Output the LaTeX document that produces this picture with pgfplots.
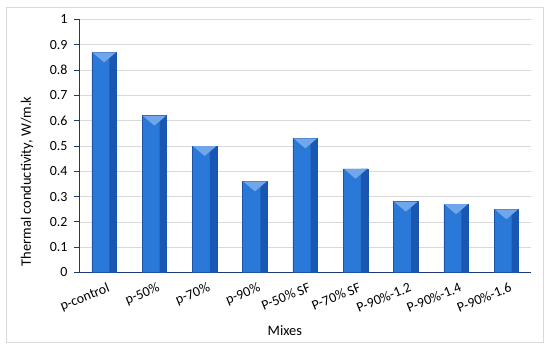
\documentclass[border=0pt]{standalone}
\usepackage{pgfplots}
\pgfplotsset{compat=1.18}
\usepackage{fontspec}
\setmainfont{Carlito}

\definecolor{axisnavy}{RGB}{31,56,110}
\definecolor{gridgray}{RGB}{217,217,217}
\definecolor{barM}{RGB}{42,120,215}
\definecolor{barR}{RGB}{24,88,178}
\definecolor{baredge}{RGB}{30,84,165}
\definecolor{bevel}{RGB}{112,166,234}

% lighter triangle on top of each bar
\pgfdeclareplotmark{bevel}{%
  \pgfpathmoveto{\pgfqpoint{-11.8bp}{0bp}}%
  \pgfpathlineto{\pgfqpoint{11.8bp}{0bp}}%
  \pgfpathlineto{\pgfqpoint{0bp}{-10bp}}%
  \pgfpathclose
  \pgfusepathqfill}

\pgfplotstableread{
x  y
0  0.87
1  0.62
2  0.50
3  0.36
4  0.53
5  0.41
6  0.28
7  0.27
8  0.25
}\mixes

\begin{document}
\begin{tikzpicture}
  \useasboundingbox (-79bp,-76.5bp) rectangle (471bp,272.5bp);
  \draw[gridgray, line width=0.8bp] (-72.5bp,-69.5bp) rectangle (464bp,265.5bp);
  \begin{axis}[
      scale only axis,
      width=452.5bp, height=253bp,
      xmin=-0.5, xmax=8.5,
      ymin=0, ymax=1,
      ytick={0,0.1,...,1.01},
      xtick={0,...,8},
      xticklabels={p-control, p-50\%, p-70\%, p-90\%, P-50\% SF, P-70\% SF,
                   P-90\%-1.2, P-90\%-1.4, P-90\%-1.6},
      minor xtick={-0.5,0.5,...,8.6},
      axis x line*=bottom,
      axis y line*=left,
      axis line style={axisnavy, line width=1bp, -},
      tick align=outside,
      major tick length=5bp,
      minor tick length=5bp,
      xtick style={draw=none},
      minor x tick style={axisnavy, line width=1bp},
      ytick style={axisnavy, line width=1bp},
      ymajorgrids,
      grid style={gridgray, line width=0.8bp},
      /pgf/number format/assume math mode=true,
      yticklabel style={font=\fontsize{14}{16}\selectfont, xshift=-3bp},
      xticklabel style={font=\fontsize{14}{16}\selectfont, rotate=22,
                        anchor=north east, xshift=4bp, yshift=-2bp},
      ylabel={Thermal conductivity, W/m.k},
      xlabel={Mixes},
      label style={font=\fontsize{14.5}{16}\selectfont},
      ylabel style={at={(axis description cs:-0.115,0.36)}, anchor=center},
      xlabel style={at={(axis description cs:0.455,-0.231)}, anchor=center},
    ]
    % bar body
    \addplot[ybar, bar width=24.6bp, bar shift=0bp, draw=baredge,
             line width=0.5bp, fill=barM] table[x=x, y=y] {\mixes};
    % darker right side of each bar
    \addplot[ybar, bar width=7bp, bar shift=8.8bp, draw=none, fill=barR]
      table[x=x, y=y] {\mixes};
    % bevelled top
    \addplot[only marks, mark=bevel, mark options={fill=bevel}]
      table[x=x, y=y] {\mixes};
  \end{axis}
\end{tikzpicture}
\end{document}
